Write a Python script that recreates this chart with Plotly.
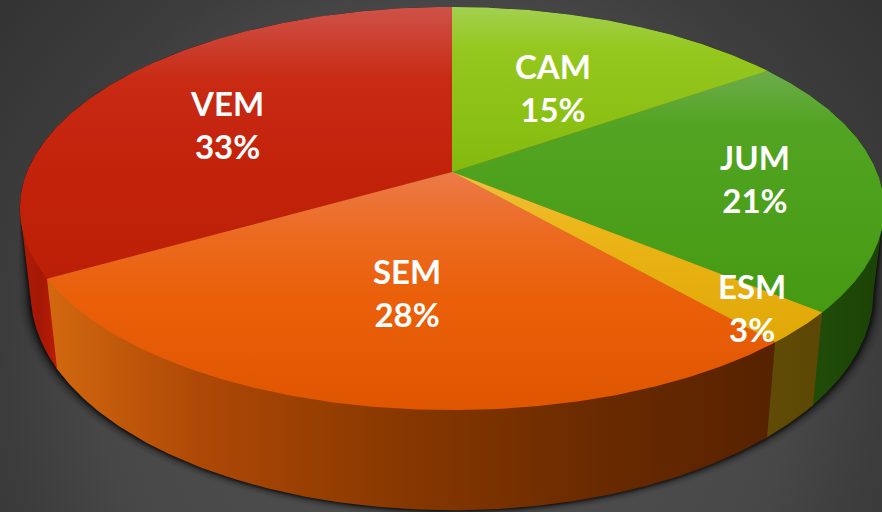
import numpy as np
import plotly.graph_objects as go

# ---- data -------------------------------------------------------------
categories = ["CAM", "JUM", "ESM", "SEM", "VEM"]
shares = [15.3, 20.7, 2.6, 28.1, 33.3]
labels_pct = ["15%", "21%", "3%", "28%", "33%"]

# ---- styling ----------------------------------------------------------
W, H = 882, 512
CX, CY, RX, RY, PERSP = 452.0, 172.0, 425.0, 195.0, 0.181
BOTTOM_SCALE, DROP = 0.975, 82.0

top_colors = {
    "CAM": [(7, "#a2d050"), (50, "#95c81e"), (172, "#84ba0e")],
    "JUM": [(72, "#6cac4a"), (125, "#52a422"), (312, "#459a12")],
    "ESM": [(172, "#f0c040"), (230, "#ecb518"), (345, "#dfa806")],
    "SEM": [(172, "#ec7a48"), (235, "#ec6a20"), (300, "#ea5f08"), (410, "#e05500")],
    "VEM": [(7, "#cf5248"), (80, "#c82a14"), (160, "#c4230b"), (280, "#bb1e06")],
}
wall_colors = {
    "JUM": [(815, "#204c08"), (882, "#1c4206")],
    "ESM": [(768, "#604c06"), (823, "#5c4804")],
    "SEM": [(48, "#d2680f"), (200, "#ae4806"), (400, "#883800"), (600, "#6a2a00"), (777, "#562200")],
    "VEM": [(20, "#b01c06"), (40, "#a41806"), (58, "#bc1c04")],
}
label_xy = {"CAM": (553, 87), "JUM": (755, 178), "ESM": (752, 307), "SEM": (407, 292), "VEM": (227, 124)}


def project(theta):
    u, v = np.sin(theta), -np.cos(theta)
    d = 1 - PERSP * v
    return CX + RX * u / d, CY + RY * v / d, d


def project_bottom(theta):
    x, y, d = project(theta)
    return CX + (x - CX) * BOTTOM_SCALE, y + DROP / d


def scale(stops, lo, hi):
    return [[(p - lo) / (hi - lo), c] for p, c in stops]


def filled(x, y, stops, kind):
    lo, hi = stops[0][0], stops[-1][0]
    return go.Scatter(
        x=x, y=y, mode="lines", fill="toself", line=dict(width=0),
        fillgradient=dict(type=kind, start=lo, stop=hi, colorscale=scale(stops, lo, hi)),
        hoverinfo="skip", showlegend=False,
    )


fig = go.Figure()

# background: soft radial grey, centred low in the frame
fig.add_trace(go.Scatter(
    x=[-255, 1145, 1145, -255, -255], y=[-340, -340, 1060, 1060, -340],
    mode="lines", fill="toself", line=dict(width=0),
    fillgradient=dict(type="radial", colorscale=[
        [0, "#4e4e4e"], [0.41, "#4a4a4a"], [0.5, "#474747"], [0.63, "#3c3c3c"], [0.8, "#343434"], [1, "#2e2e2e"],
    ]),
    hoverinfo="skip", showlegend=False,
))

# the wall is visible between the two silhouette angles of the top ellipse
sil = np.degrees(np.arccos(-PERSP))
vis_lo, vis_hi = np.radians(sil), np.radians(360 - sil)

# drop shadow, built from the outer outline of the pie; it only spreads low down
back = np.linspace(vis_hi - 2 * np.pi, vis_lo, 240)
front = np.linspace(vis_lo, vis_hi, 240)
bkx, bky, _ = project(back)
frx, fry = project_bottom(front)
ox, oy = np.concatenate([bkx, frx, bkx[:1]]), np.concatenate([bky, fry, bky[:1]])
spread = np.clip((oy - 205) / 70, 0, 1)
for k, a in zip([12, 10, 8, 6.5, 5, 4, 3, 2, 1], [.04, .05, .06, .08, .10, .12, .15, .18, .22]):
    fig.add_trace(go.Scatter(
        x=CX + (ox - CX) * (1 + spread * k / 420),
        y=oy + spread * k * 0.6 * np.clip((oy - 205) / 300, 0, 1),
        mode="lines", fill="toself", line=dict(width=0), fillcolor=f"rgba(0,0,0,{a})",
        hoverinfo="skip", showlegend=False,
    ))

edges = np.concatenate([[0], np.cumsum(shares)]) / sum(shares) * 2 * np.pi

# side walls of the front-facing part
overlap = np.radians(0.3)
for name, a0, a1 in zip(categories, edges[:-1], edges[1:]):
    lo, hi = max(a0, vis_lo), min(a1 + overlap, vis_hi)
    if hi <= lo:
        continue
    t = np.linspace(lo, hi, 160)
    xt, yt, _ = project(t)
    xb, yb = project_bottom(t)
    # run the upper edge slightly under the top face
    xu, yu = CX + (xt - CX) * 0.995, CY + (yt - CY) * 0.995
    fig.add_trace(filled(
        np.concatenate([xt[:1], xu, xt[-1:], xb[::-1], xt[:1]]),
        np.concatenate([yt[:1], yu, yt[-1:], yb[::-1], yt[:1]]),
        wall_colors[name], "horizontal",
    ))

# neutral underlay so slice seams do not show the dark background
full = np.linspace(0, 2 * np.pi, 361)
ux, uy, _ = project(full)
fig.add_trace(go.Scatter(
    x=CX + (ux - CX) * 0.995, y=CY + (uy - CY) * 0.995, mode="lines", fill="toself", line=dict(width=0),
    fillcolor="#b9801e", hoverinfo="skip", showlegend=False,
))

# top faces
for name, a0, a1 in zip(categories, edges[:-1], edges[1:]):
    t = np.linspace(a0, a1, 220)
    xt, yt, _ = project(t)
    fig.add_trace(filled(
        np.concatenate([[CX], xt, [CX]]), np.concatenate([[CY], yt, [CY]]),
        top_colors[name], "vertical",
    ))

for name, pct in zip(categories, labels_pct):
    lx, ly = label_xy[name]
    fig.add_annotation(
        x=lx, y=ly, text=f"{name}<br>{pct}", showarrow=False, xanchor="center", yanchor="middle",
        font=dict(family="Lato, sans-serif", size=33, color="#ffffff", weight="bold"),
    )

fig.update_layout(
    width=W, height=H, margin=dict(l=0, r=0, t=0, b=0, pad=0),
    paper_bgcolor="#404040", plot_bgcolor="#404040",
    xaxis=dict(range=[0, W], visible=False, fixedrange=True),
    yaxis=dict(range=[H, 0], visible=False, fixedrange=True),
    showlegend=False,
)
fig.write_html(
    "out.html", config={"displayModeBar": False},
    post_script="document.body.style.margin='0';document.documentElement.style.overflow='hidden';",
)
